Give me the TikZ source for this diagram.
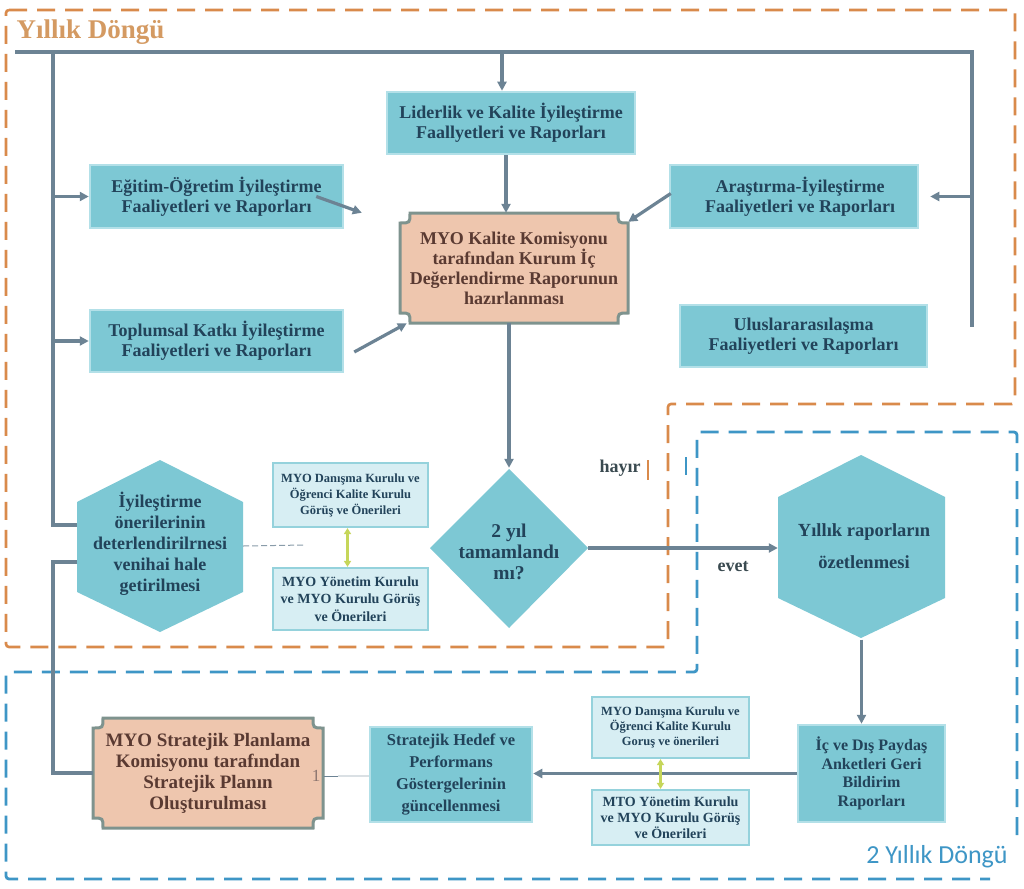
\documentclass[tikz,border=0pt]{standalone}
\usepackage{fontspec}
\setmainfont{Liberation Serif}
\newfontfamily\calibrifont{Carlito}
\usetikzlibrary{arrows.meta,calc}
\definecolor{cyanbox}{HTML}{7DC8D4}
\definecolor{cyanedge}{HTML}{B3E0E8}
\definecolor{paleb}{HTML}{D7EEF3}
\definecolor{paleedge}{HTML}{95D2DC}
\definecolor{salmon}{HTML}{EEC6AE}
\definecolor{plqedge}{HTML}{7E938E}
\definecolor{conncol}{HTML}{6C8394}
\definecolor{txtcol}{HTML}{22435A}
\definecolor{brncol}{HTML}{5A3A32}
\definecolor{orngcol}{HTML}{D98A4B}
\definecolor{bluecol}{HTML}{3E96C6}
\definecolor{ttlcol}{HTML}{D49A62}
\definecolor{ygcol}{HTML}{C6D65A}
\definecolor{labcol}{HTML}{3A4A50}
\newcommand\plaqueshape[5]{%
 \filldraw[fill=salmon, draw=plqedge, line width=3pt]
 (#1+#5,#2) -- (#3-#5,#2) .. controls (#3-#5,#2+#5) .. (#3,#2+#5)
 -- (#3,#4-#5) .. controls (#3-#5,#4-#5) .. (#3-#5,#4)
 -- (#1+#5,#4) .. controls (#1+#5,#4-#5) .. (#1,#4-#5)
 -- (#1,#2+#5) .. controls (#1+#5,#2+#5) .. (#1+#5,#2) -- cycle;}
\begin{document}
\begin{tikzpicture}[x=1pt,y=-1pt,
 cbox/.style={draw=cyanedge, line width=2.5pt, fill=cyanbox, text=txtcol, font=\bfseries\fontsize{18}{20}\selectfont, align=center, inner sep=0pt},
 pbox/.style={draw=paleedge, line width=2.2pt, fill=paleb, text=txtcol, align=center, inner sep=0pt},
 ghost/.style={inner sep=0pt, align=center},
 conn/.style={draw=conncol, line width=3.2pt},
 arr/.style={conn, -{Triangle[length=9pt,width=9pt]}},
 dbl/.style={draw=ygcol, line width=2.2pt, {Triangle[length=6pt,width=7pt]}-{Triangle[length=6pt,width=7pt]}},
 odash/.style={draw=orngcol, line width=2.6pt, dash pattern=on 18pt off 10pt, rounded corners=3pt},
 bdash/.style={draw=bluecol, line width=2.8pt, dash pattern=on 18pt off 10pt, rounded corners=3pt},
 lab/.style={text=labcol, font=\bfseries\fontsize{18}{20}\selectfont}
]
\useasboundingbox (0,0) rectangle (1024,888);
\fill[white] (0,0) rectangle (1024,888);

% dashed frames
\draw[odash] (6,10) -- (1015,10) -- (1015,404) -- (668,404) -- (668,647) -- (6,647) -- cycle;
\draw[bdash] (1017,835) -- (1017,432) -- (697,432) -- (697,672) -- (6,672) -- (6,879) -- (990,879);
\draw[orngcol, line width=2.2pt] (648,460) -- (648,480);
\draw[bluecol, line width=2.4pt] (686,457) -- (686,475);

% titles
\node[anchor=west, text=ttlcol, font=\bfseries\fontsize{27}{28}\selectfont] (ttl1) at (13,32) {Yıllık Döngü};
\node[text=bluecol, font=\calibrifont\fontsize{26}{28}\selectfont] (ttl2) at (937,857) {2 Yıllık Döngü};

% custom shapes
\plaqueshape{400}{213}{628}{323}{10}
\plaqueshape{93}{718}{323}{828}{10}
\fill[cyanbox] (509,469) -- (588,548) -- (509,628) -- (430,548) -- cycle;
\fill[cyanbox] (160,460) -- (243,502) -- (243,592) -- (160,632) -- (77,592) -- (77,502) -- cycle;
\fill[cyanbox] (861,455) -- (945,497) -- (945,598) -- (861,638) -- (778,598) -- (778,497) -- cycle;

% boxes
\node[cbox, minimum width=248pt, minimum height=62pt] (lid) at (511,123) {Liderlik ve Kalite İyileştirme\\Faallyetleri ve Raporları};
\node[cbox, minimum width=253pt, minimum height=63pt] (egt) at (216.5,196.5) {Eğitim-Öğretim İyileştirme\\Faaliyetleri ve Raporları};
\node[cbox, minimum width=253pt, minimum height=62pt] (top) at (216.5,341) {Toplumsal Katkı İyileştirme\\Faaliyetleri ve Raporları};
\node[cbox, minimum width=248pt, minimum height=63pt] (ars) at (794,196.5) {\hspace*{12pt}Araştırma-İyileştirme\\\hspace*{12pt}Faaliyetleri ve Raporları};
\node[cbox, minimum width=247pt, minimum height=62pt] (ulu) at (803.5,336) {Uluslararasılaşma\\Faaliyetleri ve Raporları};
\node[ghost, minimum width=228pt, minimum height=110pt, text=brncol, font=\bfseries\fontsize{18}{20}\selectfont] (kal) at (514,268) {MYO Kalite Komisyonu\\tarafından Kurum İç\\Değerlendirme Raporunun\\hazırlanması};
\node[ghost, minimum width=158pt, minimum height=160pt] (dia) at (509,548) {};
\node[ghost, text=txtcol, font=\bfseries\fontsize{19.5}{21}\selectfont] (diatxt) at (509,552) {2 yıl\\tamamlandı\\mı?};
\node[ghost, minimum width=166pt, minimum height=172pt] (hexL) at (160,546) {};
\node[ghost, text=txtcol, font=\bfseries\fontsize{18}{21}\selectfont] (hexLtxt) at (160,544) {İyileştirme\\önerilerinin\\deterlendirilrnesi\\venihai hale\\getirilmesi};
\node[ghost, minimum width=167pt, minimum height=183pt] (hexR) at (861.5,548) {};
\node[ghost, text=txtcol, font=\bfseries\fontsize{18.5}{32}\selectfont] (hexRtxt) at (864,546) {Yıllık raporların\\özetlenmesi};
\node[pbox, minimum width=155pt, minimum height=64pt, font=\bfseries\fontsize{12.5}{16}\selectfont] (dan1) at (350.5,495) {MYO Danışma Kurulu ve\\Öğrenci Kalite Kurulu\\Görüş ve Önerileri};
\node[pbox, minimum width=155pt, minimum height=62pt, font=\bfseries\fontsize{14}{17.5}\selectfont] (yon1) at (350.5,599) {MYO Yönetim Kurulu\\ve MYO Kurulu Görüş\\ve Önerileri};
\node[ghost, minimum width=230pt, minimum height=110pt, text=brncol, font=\bfseries\fontsize{19}{21}\selectfont] (str) at (208,773) {MYO Stratejik Planlama\\Komisyonu tarafından\\Stratejik Planın\\Oluşturulması};
\node[cbox, minimum width=162pt, minimum height=95pt, font=\bfseries\fontsize{16.5}{22}\selectfont] (hed) at (451,774.5) {Stratejik Hedef ve\\Performans\\Göstergelerinin\\güncellenmesi};
\node[pbox, minimum width=157pt, minimum height=61pt, font=\bfseries\fontsize{12.5}{15}\selectfont] (dan2) at (670.5,727.5) {MYO Danışma Kurulu ve\\Öğrenci Kalite Kurulu\\Goruş ve önerileri};
\node[pbox, minimum width=157pt, minimum height=55pt, font=\bfseries\fontsize{14}{16}\selectfont] (yon2) at (670.5,817.5) {MTO Yönetim Kurulu\\ve MYO Kurulu Görüş\\ve Önerileri};
\node[cbox, minimum width=147pt, minimum height=97pt, font=\bfseries\fontsize{16}{18.5}\selectfont] (ic) at (871.5,773.5) {İç ve Dış Paydaş\\Anketleri Geri\\Bildirim\\Raporları};

% labels
\node[lab] (hayir) at (620,468) {hayır};
\node[lab] (evet) at (733,567) {evet};
\node[text=brncol!70, font=\fontsize{17}{18}\selectfont] (one) at (316,776) {1};

% coordinates
\coordinate (t0) at (15,52);
\coordinate (tl) at (53,52);
\coordinate (tr) at (972,52);
\coordinate (rb) at (972,327);
\coordinate (ta) at (502,52);
\coordinate (l1) at (53,196.5);
\coordinate (l2) at (53,341);
\coordinate (r1) at (972,196.5);
\coordinate (hl1) at (77,525);
\coordinate (hl2) at (77,562);
\coordinate (lb) at (53,562);
\coordinate (dd) at (305,545);
\coordinate (onee) at (338,776);

% connectors
\draw[conn] (t0) -- (tl);
\draw[conn] (hl1) -| (tl) -- (tr) -- (rb);
\draw[arr] (ta) -- (ta |- lid.north);
\draw[arr] (l1) -- (egt.west);
\draw[arr] (l2) -- (top.west);
\draw[arr, shorten >=11pt] (r1) -- (ars.east);
\draw[arr] ($(lid.south)+(-5,0)$) -- ($(lid.south |- kal.north)+(-5,0)$);
\draw[arr] ($(egt.east)+(-28,0)$) -- ($(kal.north west)+(-38,0)$);
\draw[arr] ($(top.east)+(10,11)$) -- ($(kal.south west)+(7,0)$);
\draw[arr] ($(ars.west)+(2,-3)$) -- ($(kal.north east)+(0,9)$);
\draw[arr] (kal.south -| dia.north) -- (dia.north);
\draw[arr] (dia.east) -- (hexR.west);
\draw[conn] (hl2) -- (lb) |- (str.west);
\draw[arr] (hexR.south) -- (hexR.south |- ic.north);
\draw[arr] (ic.west) -- (ic.west -| hed.east);
\draw[draw=conncol!80, line width=1pt, dash pattern=on 6pt off 3pt] (hexL.east) -- (dd);
\draw[dbl] ($(dan1.south)+(-3,0)$) -- ($(yon1.north)+(-3,0)$);
\draw[dbl] ($(dan2.south)+(-10,0)$) -- ($(yon2.north)+(-10,0)$);
\draw[draw=conncol, line width=1pt] (one.east) -- (onee);
\draw[draw=conncol!25, line width=2pt] (onee) -- (onee -| hed.west);
\end{tikzpicture}
\end{document}
